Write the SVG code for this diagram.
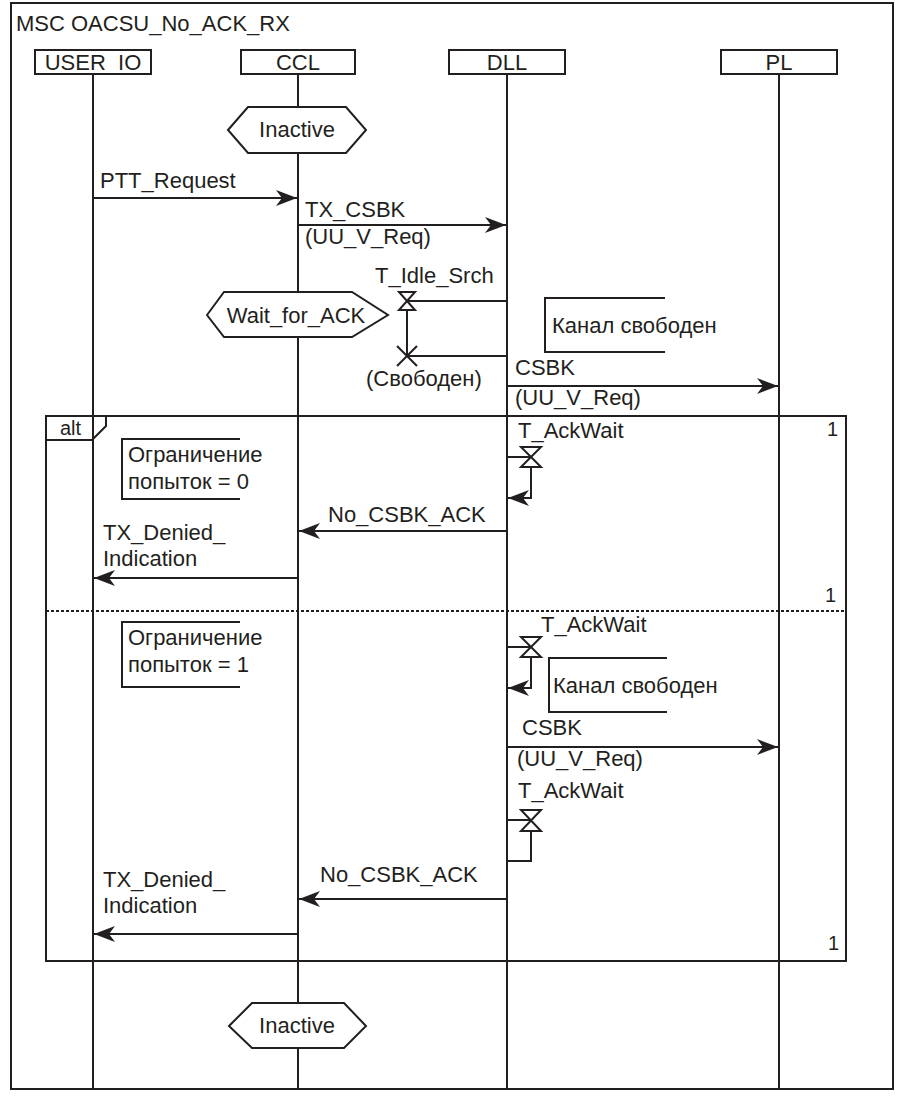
<svg xmlns="http://www.w3.org/2000/svg" width="900" height="1096" viewBox="0 0 900 1096">
<style>
text{font-family:"Liberation Sans",Arial,sans-serif;font-size:22px;fill:#231f20}
.c{text-anchor:middle}
.ln{stroke:#231f20;stroke-width:2;fill:none}
.box{stroke:#231f20;stroke-width:2;fill:#fff}
.msg{stroke:#231f20;stroke-width:2;fill:none;marker-end:url(#arr)}
</style>
<defs>
<marker id="arr" viewBox="-21 -8 21 16" refX="0" refY="0" markerWidth="21" markerHeight="16" markerUnits="userSpaceOnUse" orient="auto">
<path d="M0,0 L-21,-8 L-15,0 L-21,8 Z" fill="#231f20"/>
</marker>
</defs>
<rect width="900" height="1096" fill="#fff"/>
<g id="frame">
<rect class="ln" x="11" y="3" width="882" height="1086"/>
<text x="16" y="31">MSC OACSU_No_ACK_RX</text>
</g>
<g id="lifelines">
<line class="ln" x1="93" y1="74" x2="93" y2="1089"/>
<line class="ln" x1="298" y1="74" x2="298" y2="1089"/>
<line class="ln" x1="507" y1="74" x2="507" y2="1089"/>
<line class="ln" x1="779" y1="74" x2="779" y2="1089"/>
</g>
<g id="alt">
<rect class="ln" x="46" y="416" width="800" height="545"/>
<path class="ln" d="M46,440 H92 L106,426 V416"/>
<text x="60" y="435" style="font-size:20px">alt</text>
<line class="ln" x1="46" y1="611" x2="846" y2="611" stroke-dasharray="3,2"/>
<text x="827" y="436" style="font-size:20px">1</text>
<text x="825" y="602" style="font-size:20px">1</text>
<text x="828" y="950" style="font-size:20px">1</text>
</g>
<g id="user_io"><rect class="box" x="35" y="50" width="116" height="24"/><text class="c" x="93" y="70">USER_IO</text></g>
<g id="ccl"><rect class="box" x="241" y="50" width="114" height="24"/><text class="c" x="298" y="70">CCL</text></g>
<g id="dll"><rect class="box" x="449" y="50" width="116" height="24"/><text class="c" x="507" y="70">DLL</text></g>
<g id="pl"><rect class="box" x="721" y="50" width="116" height="24"/><text class="c" x="779" y="70">PL</text></g>
<g id="inactive_top"><path class="box" d="M228,130 L248,107 H346 L366,130 L346,153 H248 Z"/><text class="c" x="297" y="137">Inactive</text></g>
<g id="wait_for_ack"><path class="box" d="M207,315 L224,292 H352 L388,315 L352,337 H224 Z"/><text class="c" x="296" y="323">Wait_for_ACK</text></g>
<g id="inactive_bottom"><path class="box" d="M229,1026 L252,1003 H344 L366,1026 L344,1048 H252 Z"/><text class="c" x="297" y="1033">Inactive</text></g>
<g id="timer_idle">
<line class="ln" x1="507" y1="301" x2="407" y2="301"/>
<line class="ln" x1="407" y1="310" x2="407" y2="356"/>
<line class="ln" x1="407" y1="356" x2="507" y2="356"/>
<path class="box" d="M399,292 H415 L399,310 H415 Z"/>
<path class="ln" d="M397,346 L417,366 M417,346 L397,366"/>
<text x="375" y="283">T_Idle_Srch</text>
<text x="366" y="386">(Свободен)</text>
</g>
<g id="note_free1"><path class="ln" d="M665,298 H545 V352 H665"/><text x="552" y="333">Канал свободен</text></g>
<g id="note_limit0"><path class="ln" d="M240,439 H122 V499 H240"/><text x="128" y="462">Ограничение</text><text x="128" y="489">попыток  = 0</text></g>
<g id="timer_ack1">
<line class="ln" x1="507" y1="457" x2="531" y2="457"/>
<path class="box" d="M521,447 H541 L521,467 H541 Z"/>
<text x="518" y="438">T_AckWait</text>
</g>
<g id="note_limit1"><path class="ln" d="M240,622 H122 V687 H240"/><text x="128" y="645">Ограничение</text><text x="128" y="672">попыток  = 1</text></g>
<g id="timer_ack2">
<line class="ln" x1="507" y1="647" x2="531" y2="647"/>
<path class="box" d="M521,637 H541 L521,657 H541 Z"/>
<text x="541" y="632">T_AckWait</text>
</g>
<g id="note_free2"><path class="ln" d="M667,658 H549 V712 H667"/><text x="553" y="693">Канал свободен</text></g>
<g id="timer_ack3">
<line class="ln" x1="507" y1="820" x2="531" y2="820"/>
<path class="ln" d="M531,831 V861 H507"/>
<path class="box" d="M521,810 H541 L521,831 H541 Z"/>
<text x="518" y="798">T_AckWait</text>
</g>
<g id="connectors">
<line class="msg" x1="93" y1="198" x2="297" y2="198"/>
<text x="100" y="188">PTT_Request</text>
<line class="msg" x1="298" y1="225" x2="506" y2="225"/>
<text x="305" y="217">TX_CSBK</text>
<text x="305" y="244">(UU_V_Req)</text>
<line class="msg" x1="507" y1="386" x2="778" y2="386"/>
<text x="515" y="375">CSBK</text>
<text x="515" y="405">(UU_V_Req)</text>
<path class="msg" d="M531,467 V498 H508"/>
<line class="msg" x1="507" y1="531" x2="299" y2="531"/>
<text x="328" y="522">No_CSBK_ACK</text>
<line class="msg" x1="298" y1="578" x2="94" y2="578"/>
<text x="103" y="540">TX_Denied_</text>
<text x="103" y="566">Indication</text>
<path class="msg" d="M531,657 V688 H508"/>
<line class="msg" x1="507" y1="747" x2="778" y2="747"/>
<text x="522" y="735">CSBK</text>
<text x="517" y="766">(UU_V_Req)</text>
<line class="msg" x1="507" y1="899" x2="299" y2="899"/>
<text x="320" y="882">No_CSBK_ACK</text>
<line class="msg" x1="298" y1="934" x2="94" y2="934"/>
<text x="103" y="887">TX_Denied_</text>
<text x="103" y="913">Indication</text>
</g>
</svg>
